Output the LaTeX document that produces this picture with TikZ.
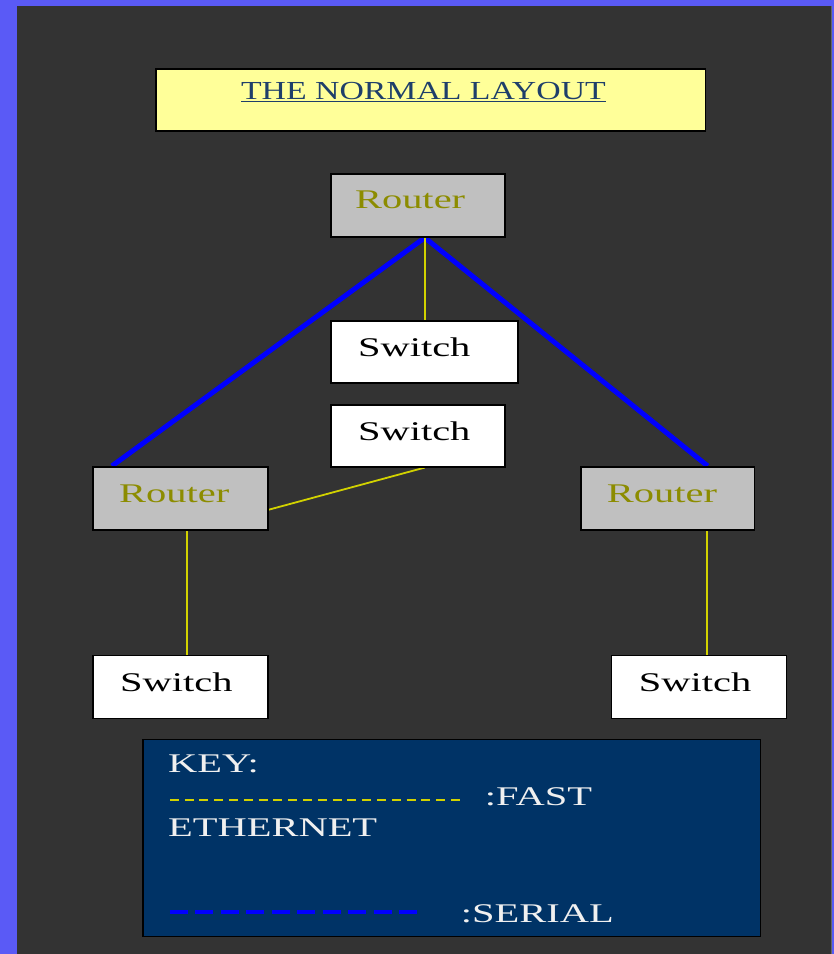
\documentclass[tikz,border=0pt]{standalone}
\usepackage{fontspec}
\setmainfont{Liberation Serif}
\newfontfamily\widefont[FakeStretch=1.5]{Liberation Serif}
\newfontfamily\titlefont[FakeStretch=1.3]{Liberation Serif}
\definecolor{bgblue}{HTML}{5A5AF6}
\definecolor{panel}{HTML}{333333}
\definecolor{titlefill}{HTML}{FFFF99}
\definecolor{titleblue}{HTML}{1F3F6A}
\definecolor{routerfill}{HTML}{C0C0C0}
\definecolor{routertext}{HTML}{8C8C00}
\definecolor{keyfill}{HTML}{003366}
\definecolor{fastcol}{HTML}{D2D200}
\definecolor{serialcol}{HTML}{0000FF}
\pgfdeclarelayer{back}
\pgfdeclarelayer{links}
\pgfsetlayers{back,links,main}
\begin{document}
\begin{tikzpicture}[x=1pt,y=-1pt,
  box/.style={rectangle, draw=black, line width=1.6pt, inner sep=0pt},
  routerbox/.style={box, fill=routerfill, minimum width=174pt, minimum height=63pt},
  switchbox/.style={box, fill=white, minimum width=175pt, minimum height=63pt},
  lbl/.style={inner sep=0pt, anchor=base west, font=\widefont\fontsize{27}{30}\selectfont},
  rtext/.style={lbl, text=routertext},
  stext/.style={lbl, text=black},
  ktext/.style={lbl, text=white!94!black},
  fast/.style={draw=fastcol, line width=1.8pt},
  serial/.style={draw=serialcol, line width=5pt},
  fastdash/.style={draw=fastcol, line width=2pt, dash pattern=on 9pt off 5.8pt},
  serialdash/.style={draw=serialcol, line width=4pt, dash pattern=on 18pt off 7.5pt}
]
\begin{pgfonlayer}{back}
\fill[bgblue] (0,0) rectangle (834,954);
\fill[panel] (17,6) rectangle (832,954);
\draw[black!60, line width=1pt] (832,6) -- (832,954);
\end{pgfonlayer}
\useasboundingbox (0,0) rectangle (834,954);

% title
\node[box, fill=titlefill, minimum width=550pt, minimum height=62pt] (title) at (431,100) {};
\node[inner sep=0pt, anchor=base west, text=titleblue, font=\titlefont\fontsize{26}{30}\selectfont] (titletext) at (241,100) {\underline{THE NORMAL LAYOUT}};

% devices
\node[routerbox] (r0) at (418,205.5) {};
\node[rtext] (r0t) at (355,209) {Router};
\node[switchbox, minimum width=187pt, minimum height=62pt] (s1) at (424.5,352) {};
\node[stext] (s1t) at (358,357) {Switch};
\node[switchbox, minimum width=174pt, minimum height=62pt] (s2) at (418,436) {};
\node[stext] (s2t) at (358,441) {Switch};
\node[routerbox, minimum width=175pt] (rL) at (180.5,498.5) {};
\node[rtext] (rLt) at (119,503) {Router};
\node[routerbox] (rR) at (668,498.5) {};
\node[rtext] (rRt) at (607,503) {Router};
\node[switchbox] (sL) at (180.5,687.5) {};
\node[stext] (sLt) at (120,692) {Switch};
\node[switchbox] (sR) at (699.5,687.5) {};
\node[stext] (sRt) at (639,692) {Switch};

% connectors
\begin{pgfonlayer}{links}
\draw[serial] ([xshift=7pt]r0.south) -- ([xshift=-68.5pt]rL.north);
\draw[serial] ([xshift=7pt]r0.south) -- ([xshift=40pt]rR.north);
\draw[fast] ([xshift=7pt]r0.south) -- ([xshift=0.5pt]s1.north);
\draw[fast] ([xshift=7pt]s2.south) -- ([yshift=-11.5pt]rL.east);
\draw[fast] ([xshift=6.5pt]rL.south) -- ([xshift=6.5pt]sL.north);
\draw[fast] ([xshift=39pt]rR.south) -- ([xshift=7.5pt]sR.north);
\end{pgfonlayer}

% key
\node[box, fill=keyfill, minimum width=618pt, minimum height=197pt] (key) at (452,838.5) {};
\node[ktext] (k1) at (168,773) {KEY:};
\coordinate (fa) at (170,800);
\coordinate (fb) at (460,800);
\draw[fastdash] (fa) -- (fb);
\node[ktext] (k2) at (485,806) {:FAST};
\node[ktext] (k3) at (168,837) {ETHERNET};
\coordinate (sa) at (170,912);
\coordinate (sb) at (419,912);
\draw[serialdash] (sa) -- (sb);
\node[ktext] (k4) at (461,923) {:SERIAL};
\end{tikzpicture}
\end{document}
